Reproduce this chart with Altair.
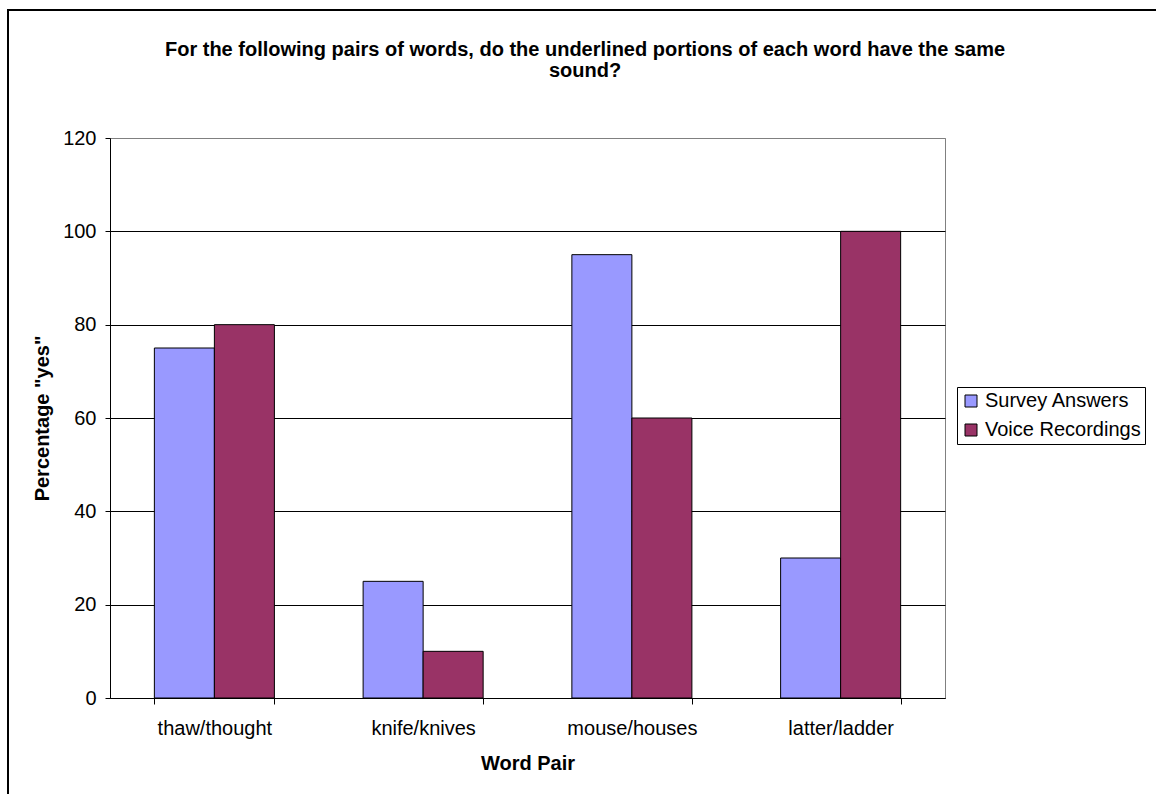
import altair as alt
import pandas as pd

# Word pairs and the share of "yes" answers for each source
pairs = ["thaw/thought", "knife/knives", "mouse/houses", "latter/ladder"]
survey_answers = [75, 25, 95, 30]
voice_recordings = [80, 10, 60, 100]
series = ["Survey Answers", "Voice Recordings"]
series_colors = ["#9999FF", "#993366"]
y_ticks = [0, 20, 40, 60, 80, 100, 120]
title_lines = [
    "For the following pairs of words, do the underlined portions of each word have the same",
    "sound?",
]

rows = []
for p, s, v in zip(pairs, survey_answers, voice_recordings):
    rows.append({"pair": p, "series": series[0], "pct": s})
    rows.append({"pair": p, "series": series[1], "pct": v})
df = pd.DataFrame(rows)

FONT = "Liberation Sans"
FS = 20
W, H = 835, 560
LEFT, TOP = 110, 138

bars = alt.Chart(df).mark_bar(stroke="black", strokeWidth=1).encode(
    x=alt.X(
        "pair:N", sort=pairs,
        scale=alt.Scale(paddingInner=0.425, paddingOuter=0.2125),
        axis=alt.Axis(
            title="Word Pair", labelAngle=0, tickBand="extent",
            labelFont=FONT, labelFontSize=FS, labelColor="black", labelPadding=14,
            titleFont=FONT, titleFontSize=FS, titleFontWeight="bold", titleColor="black",
            titlePadding=15, domainColor="black", tickColor="black", tickSize=6,
        ),
    ),
    xOffset=alt.XOffset("series:N", sort=series),
    y=alt.Y(
        "pct:Q",
        scale=alt.Scale(domain=[0, 120], nice=False),
        axis=alt.Axis(
            title='Percentage "yes"', values=y_ticks, grid=True,
            gridColor={"condition": {"test": "datum.value == 120", "value": "#808080"}, "value": "black"},
            labelFont=FONT, labelFontSize=FS, labelColor="black", labelPadding=9,
            titleFont=FONT, titleFontSize=FS, titleFontWeight="bold", titleColor="black",
            titlePadding=10, domainColor="black", tickColor="black", tickSize=5,
        ),
    ),
    color=alt.Color(
        "series:N",
        scale=alt.Scale(domain=series, range=series_colors),
        legend=alt.Legend(
            title=None, orient="none", legendX=847, legendY=249,
            labelFont=FONT, labelFontSize=FS, labelColor="black", labelLimit=300,
            labelOffset=4, symbolType="square", symbolSize=144, symbolStrokeColor="black",
            symbolStrokeWidth=1, rowPadding=9, padding=4,
            strokeColor="black", fillColor="white",
        ),
    ),
)

# Two-line chart heading, centred above the plot
heading = alt.Chart(
    pd.DataFrame({"line": title_lines, "row": [0, 1]})
).mark_text(
    font=FONT, fontSize=FS, fontWeight="bold", color="black",
    align="center", baseline="alphabetic", clip=False,
).encode(
    text="line:N",
    x=alt.value(585 - LEFT),
    y=alt.Y("row:Q", scale=alt.Scale(domain=[0, 1], range=[56 - TOP, 77 - TOP]), axis=None),
)

# Outer frame around the whole chart
frame = alt.Chart(pd.DataFrame({"k": [0]})).mark_rect(
    fillOpacity=0, stroke="black", strokeWidth=2, clip=False
).encode(
    x=alt.value(8 - LEFT), x2=alt.value(1156 - LEFT + 20),
    y=alt.value(10 - TOP), y2=alt.value(794 - TOP + 20),
)

chart = alt.layer(bars, heading, frame).resolve_scale(y="independent").properties(
    width=W, height=H,
    autosize=alt.AutoSizeParams(type="none"),
    padding={"left": LEFT, "top": TOP, "right": 1156 - LEFT - W, "bottom": 794 - TOP - H},
    background="white",
).configure_view(stroke="#808080", strokeWidth=1)

chart.save("out.html", embed_options={"renderer": "svg", "actions": False})
